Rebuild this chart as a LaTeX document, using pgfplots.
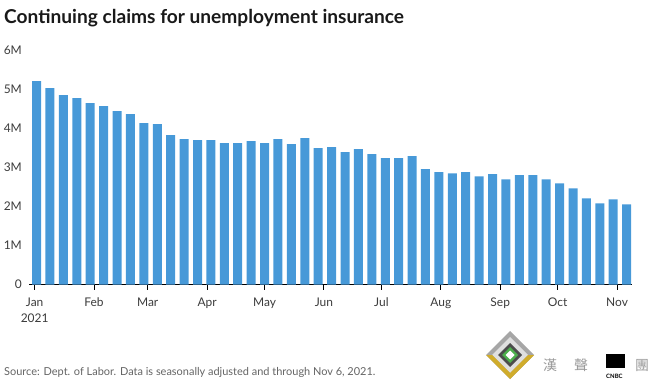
\documentclass[border=0pt]{standalone}
\usepackage{pgfplots}
\pgfplotsset{compat=1.18}
\usepackage{fontspec}
\setmainfont{Lato}
\newfontfamily\cjk{Noto Sans CJK SC}
\definecolor{barblue}{RGB}{71,153,216}
\definecolor{gridgray}{RGB}{210,210,210}
\definecolor{labgray}{RGB}{60,60,60}
\definecolor{srcgray}{RGB}{100,100,100}
\pgfplotstableread{
day val
1 5.213
8 5.033
15 4.853
22 4.776
29 4.648
36 4.571
43 4.442
50 4.365
57 4.134
64 4.109
71 3.826
78 3.723
85 3.698
92 3.698
99 3.621
106 3.621
113 3.672
120 3.621
127 3.723
134 3.595
141 3.749
148 3.492
155 3.518
162 3.390
169 3.467
176 3.338
183 3.235
190 3.235
197 3.287
204 2.953
211 2.876
218 2.850
225 2.876
232 2.773
239 2.825
246 2.696
253 2.799
260 2.799
267 2.696
274 2.594
281 2.465
288 2.208
295 2.080
302 2.183
309 2.054
}\claims
\begin{document}
\begin{tikzpicture}[x=1bp,y=1bp]
\useasboundingbox (0,0) rectangle (653,381);
\node[anchor=base west,inner sep=0pt,font=\fontsize{19.2}{22}\selectfont\bfseries,text=black!90] at (4,381-23) {Continuing claims for unemployment insurance};
\begin{axis}[
  at={(29.3bp,96.5bp)}, anchor=south west,
  scale only axis, width=602.7bp, height=234.2bp,
  xmin=-2.8, xmax=311.8, ymin=0, ymax=6,
  axis x line*=bottom, axis y line=none,
  x axis line style={black,line width=1.2pt},
  ytick={0,1,2,3,4,5,6},
  yticklabels={0,1M,2M,3M,4M,5M,6M},
  ymajorgrids, grid style={gridgray,line width=0.9pt},
  xtick={0,31,59,90,120,151,181,212,243,273,304},
  xticklabels={{Jan\\2021},Feb,Mar,Apr,May,Jun,Jul,Aug,Sep,Oct,Nov},
  xticklabel style={align=center,font=\fontsize{12}{15.5}\selectfont,text=labgray,yshift=-5bp},
  x tick style={black,line width=1pt},
  major tick length=5bp,
  tick align=outside,
  xtick pos=bottom,
  /pgf/number format/assume math mode=true,
  clip=false,
]
\addplot[ybar,bar width=4.7,fill=barblue,draw=none] table[x=day,y=val] {\claims};
\end{axis}
\foreach \v/\l in {0/0,1/1M,2/2M,3/3M,4/4M,5/5M,6/6M}{
  \node[anchor=east,inner sep=0pt,font=\fontsize{12}{14}\selectfont,text=labgray] at (22,96.5+\v*39.03) {\l};
}
\node[anchor=base west,inner sep=0pt,font=\fontsize{11}{13}\selectfont,text=srcgray] at (4,381-375) {Source: Dept. of Labor. Data is seasonally adjusted and through Nov 6, 2021.};
% watermark logo (approximate)
\begin{scope}[shift={(510,381-355)}]
  \fill[gray!70] (0,24) -- (24,0) -- (0,-24) -- (-24,0) -- cycle;
  \fill[gray!25] (0,18) -- (18,0) -- (0,-18) -- (-18,0) -- cycle;
  \fill[yellow!60!orange!80!black] (-24,0) -- (0,-24) -- (24,0) -- (18,0) -- (0,-18) -- (-18,0) -- cycle;
  \fill[black!70] (0,12) -- (12,0) -- (0,-12) -- (-12,0) -- cycle;
  \fill[green!55!black!70] (0,8) -- (8,0) -- (0,-8) -- (-8,0) -- cycle;
  \fill[white] (0,4.5) -- (4.5,0) -- (0,-4.5) -- (-4.5,0) -- cycle;
\end{scope}
\node[anchor=base west,inner sep=0pt,font=\cjk\fontsize{14}{16}\selectfont,text=gray!80] at (543,381-370) {漢};
\node[anchor=base west,inner sep=0pt,font=\cjk\fontsize{14}{16}\selectfont,text=gray!80] at (574,381-370) {聲};
\node[anchor=base west,inner sep=0pt,font=\cjk\fontsize{14}{16}\selectfont,text=gray!80] at (635,381-370) {團};
\node[anchor=base west,inner sep=0pt,font=\bfseries\fontsize{6}{7}\selectfont,text=black] at (606,381-378) {CNBC};
\fill[black] (606,381-368) rectangle (625,381-354);
\end{tikzpicture}
\end{document}
